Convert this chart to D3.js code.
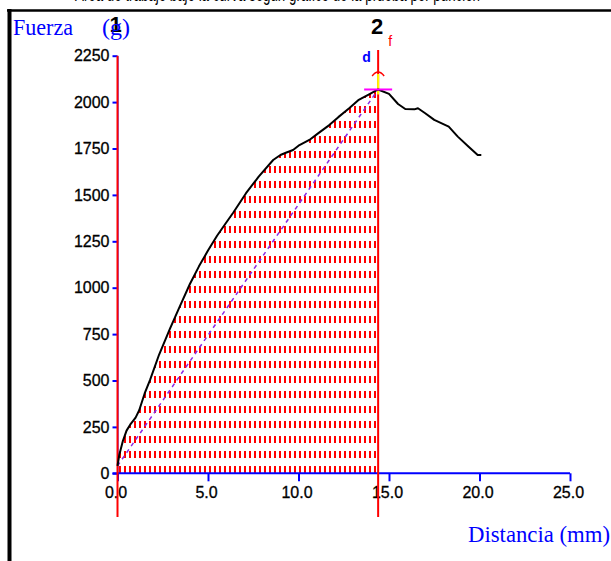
<!DOCTYPE html>
<html><head><meta charset="utf-8">
<script src="https://cdn.jsdelivr.net/npm/d3@7"></script>
<style>
html,body{margin:0;padding:0;background:#fff;}
svg{display:block;}
</style></head>
<body>
<script>
// ---- data ----
const distance = [0.0,0.1,0.3,0.5,0.7,1.0,1.2,1.5,1.8,2.3,2.9,3.4,4.0,4.5,5.0,5.5,6.0,6.4,7.1,7.8,8.6,9.0,9.3,9.7,10.0,10.6,11.1,11.7,12.2,12.8,13.3,13.9,14.4,15.0,15.5,15.9,16.4,16.6,17.0,17.5,18.3,18.8,19.4,19.9,20.1];
const force    = [40,100,175,230,262,300,340,430,503,640,780,890,1020,1115,1200,1280,1350,1405,1509,1598,1688,1715,1727,1742,1765,1796,1833,1876,1919,1967,2010,2042,2068,2044,1990,1963,1961,1967,1940,1904,1868,1814,1760,1715,1715];
const xTickValues = [0,5,10,15,20,25];
const yTickValues = [0,250,500,750,1000,1250,1500,1750,2000,2250];
const markerPos = [0, 14.4];
const markerLabels = ["1","2"];
const peakDistance = 14.4, peakForce = 2068;
const xLabel = "Distancia (mm)";
const yLabelWord = "Fuerza", yLabelUnit = "(g)";
const topCaption = "Área de trabajo bajo la curva según gráfico de la prueba por punción";

const W = 611, H = 561;
const svg = d3.select("body").append("svg").attr("width", W).attr("height", H);

const x = d3.scaleLinear().domain([0,25]).range([117.5,570]);
const y = d3.scaleLinear().domain([0,2250]).range([473.3,55.7]);

const pts = distance.map((d,i)=>({d, f: force[i]}));

// cut caption at the very top (only the bottom of the glyphs is visible)
svg.append("text").attr("x", 75).attr("y", 1)
  .attr("font-family","Liberation Sans, Arial, sans-serif").attr("font-size",20)
  .attr("textLength",405).attr("lengthAdjust","spacingAndGlyphs")
  .attr("fill","#000").text(topCaption);

// frame
svg.append("line").attr("x1",7).attr("x2",W).attr("y1",10.5).attr("y2",10.5).attr("stroke","#000").attr("stroke-width",2.5);
svg.append("line").attr("x1",9.5).attr("x2",9.5).attr("y1",9).attr("y2",H).attr("stroke","#000").attr("stroke-width",4);

// hatch pattern
const defs = svg.append("defs");
const pat = defs.append("pattern").attr("id","hatch").attr("patternUnits","userSpaceOnUse")
  .attr("x",119).attr("y",1).attr("width",5).attr("height",15);
pat.append("rect").attr("x",0).attr("y",0).attr("width",2).attr("height",7).attr("fill","#ff0000");

const area = d3.area().x(p=>x(p.d)).y0(y(0)).y1(p=>y(p.f));
svg.append("path").datum(pts.filter(p=>p.d<=peakDistance))
  .attr("d", area).attr("fill","url(#hatch)");

// diagonal dashed line (first point to peak)
svg.append("line")
  .attr("x1", x(distance[0])).attr("y1", y(force[0]))
  .attr("x2", x(peakDistance)).attr("y2", y(peakForce))
  .attr("stroke","#8a2be2").attr("stroke-width",1.5).attr("stroke-dasharray","4,4");

// x axis
const xAxis = d3.axisBottom(x).tickValues(xTickValues).tickSize(8).tickSizeOuter(0).tickPadding(5)
  .tickFormat(d3.format(".1f"));
const gx = svg.append("g").attr("transform",`translate(0,${y(0)})`).call(xAxis);
gx.select(".domain").remove();
gx.insert("line",":first-child").attr("x1",112.5).attr("x2",x(25)).attr("y1",0).attr("y2",0)
  .attr("stroke","#0000ff").attr("stroke-width",2);
gx.selectAll(".tick line").attr("stroke","#0000ff").attr("stroke-width",2);
gx.selectAll(".tick text").attr("fill","#000").attr("stroke","#000").attr("stroke-width",0.3)
  .attr("font-size",16).attr("dx",-2)
  .attr("font-family","Liberation Sans, Arial, sans-serif");

// y axis
const yAxis = d3.axisLeft(y).tickValues(yTickValues).tickSize(5).tickSizeOuter(0).tickPadding(3)
  .tickFormat(d3.format("d"));
const gy = svg.append("g").attr("transform",`translate(${x(0)},0)`).call(yAxis);
gy.select(".domain").attr("stroke","#0000ff");
gy.selectAll(".tick line").attr("stroke","#0000ff").attr("stroke-width",2);
gy.selectAll(".tick text").attr("fill","#000").attr("stroke","#000").attr("stroke-width",0.3)
  .attr("font-size",16)
  .attr("font-family","Liberation Sans, Arial, sans-serif");

// red marker lines
markerPos.forEach((m,i)=>{
  svg.append("line").attr("x1",x(m)).attr("x2",x(m))
    .attr("y1", i===0 ? y(2250) : 50).attr("y2",517)
    .attr("stroke","#ff0000").attr("stroke-width",2);
});

// peak decorations
const px = x(peakDistance), py = y(peakForce);
svg.append("line").attr("x1",px).attr("x2",px).attr("y1",74).attr("y2",py+5)
  .attr("stroke","#ffff00").attr("stroke-width",2);
svg.append("path").attr("d",`M${px-6},76 Q${px},68 ${px+6},76`)
  .attr("fill","none").attr("stroke","#ff0000").attr("stroke-width",1.5);

// curve
const line = d3.line().x(p=>x(p.d)).y(p=>y(p.f));
svg.append("path").datum(pts).attr("d",line).attr("fill","none")
  .attr("stroke","#000").attr("stroke-width",2).attr("stroke-linejoin","round");

svg.append("line").attr("x1",px-14).attr("x2",px+14).attr("y1",py).attr("y2",py)
  .attr("stroke","#ff00ff").attr("stroke-width",2);

// marker labels
markerPos.forEach((m,i)=>{
  svg.append("text").attr("x", x(m) - (i===0?2:1)).attr("y", i===0?32:34)
    .attr("text-anchor","middle").attr("font-family","Liberation Sans, Arial, sans-serif")
    .attr("font-weight","bold").attr("font-size",22).attr("fill","#000").text(markerLabels[i]);
});
svg.append("text").attr("x",px+10).attr("y",46).attr("font-family","Liberation Sans, Arial, sans-serif")
  .attr("font-size",14).attr("fill","#ff0000").text("f");
svg.append("text").attr("x",px-16).attr("y",62).attr("font-family","Liberation Sans, Arial, sans-serif")
  .attr("font-size",14).attr("font-weight","bold").attr("fill","#0000ff").text("d");

// axis titles
svg.append("text").attr("x",13).attr("y",35).attr("font-family","Liberation Serif, Times New Roman, serif")
  .attr("font-size",24).attr("fill","#0000ff").attr("textLength",60).attr("lengthAdjust","spacingAndGlyphs").text(yLabelWord);
svg.append("text").attr("x",102).attr("y",35).attr("font-family","Liberation Serif, Times New Roman, serif")
  .attr("font-size",24).attr("fill","#0000ff").attr("textLength",28).attr("lengthAdjust","spacingAndGlyphs").text(yLabelUnit);
svg.append("text").attr("x",468).attr("y",542).attr("font-family","Liberation Serif, Times New Roman, serif")
  .attr("font-size",24).attr("fill","#0000ff").attr("textLength",142).attr("lengthAdjust","spacingAndGlyphs").text(xLabel);
</script>
</body></html>
